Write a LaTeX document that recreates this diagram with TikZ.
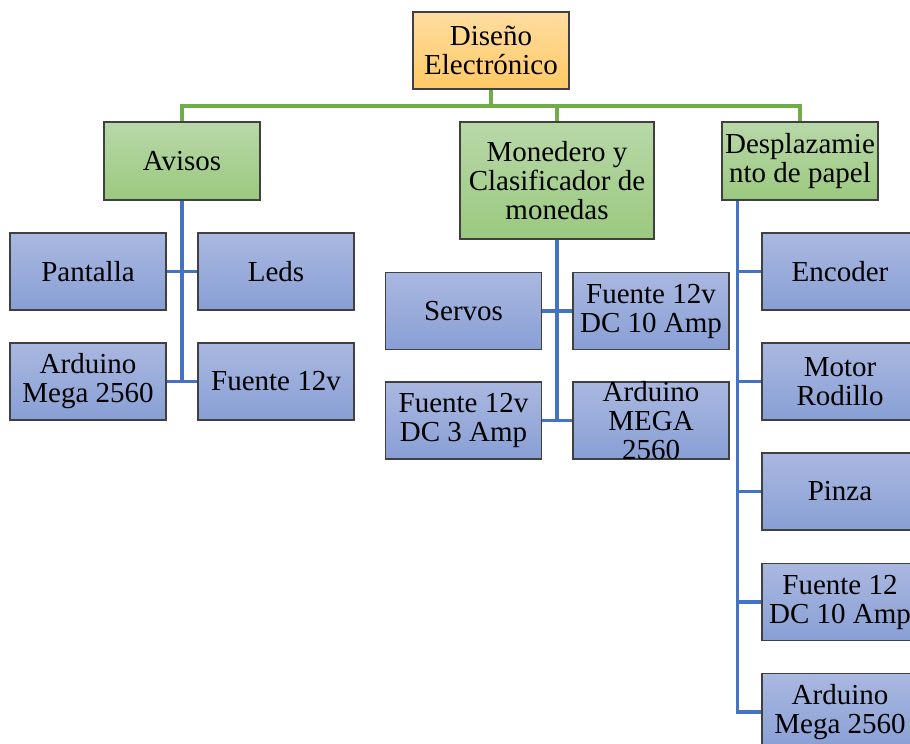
\documentclass[tikz,border=0pt]{standalone}
\usepackage{fontspec}
\setmainfont{Liberation Serif}
\newfontfamily\boxface{LiberationSerif}[Extension=.ttf, UprightFont=*-Regular]
\begin{document}
\begin{tikzpicture}[x=1pt,y=-1pt,
  boxfont/.style={font=\boxface\fontsize{29}{29}\selectfont},
  basebox/.style={draw=boxedge, line width=1.1pt, inner sep=0pt, align=center, boxfont,
    minimum width=156pt, minimum height=77pt},
  topbox/.style={basebox, top color=topA, bottom color=topB},
  midbox/.style={basebox, top color=midA, bottom color=midB},
  leafbox/.style={basebox, top color=leafA, bottom color=leafB},
  gline/.style={draw=linkG, line width=3.4pt},
  bline/.style={draw=linkB, line width=3.4pt},
  lbl/.style={boxfont, align=center, inner sep=0pt}]
\definecolor{boxedge}{HTML}{404040}
\definecolor{topA}{HTML}{FFDDA0}
\definecolor{topB}{HTML}{FFC965}
\definecolor{midA}{HTML}{B8D8A8}
\definecolor{midB}{HTML}{9BC97F}
\definecolor{leafA}{HTML}{AAB8E0}
\definecolor{leafB}{HTML}{889FD5}
\definecolor{linkG}{HTML}{70AD47}
\definecolor{linkB}{HTML}{4472C4}
\useasboundingbox (0,0) rectangle (910,744);
\clip (0,0) rectangle (910,744);

% root
\node[topbox] (root) at (491,50.5) {Diseño\\Electrónico};

% second level
\node[midbox, minimum width=156pt, minimum height=78pt] (avi) at (182,161) {Avisos};
\node[midbox, minimum width=194pt, minimum height=117pt] (mon) at (557,180.5) {Monedero y\\Clasificador de\\monedas};
\node[midbox, minimum width=156pt, minimum height=78pt] (des) at (800,161) {Desplazamie\\nto de papel};

% Avisos
\node[leafbox] (pan) at (88,271.5) {Pantalla};
\node[leafbox] (led) at (276,271.5) {Leds};
\node[leafbox] (ard) at (88,381.5) {Arduino\\Mega 2560};
\node[leafbox] (f12) at (276,381.5) {Fuente 12v};

% Monedero
\node[leafbox] (ser) at (463.5,311) {Servos};
\node[leafbox] (fda) at (651,311) {Fuente 12v\\DC 10 Amp};
\node[leafbox] (fdb) at (463.5,420.5) {Fuente 12v\\DC 3 Amp};
\node[leafbox, label={[lbl]center:Arduino\\MEGA\\2560}] (amg) at (651,420.5) {};

% Desplazamiento
\node[leafbox] (enc) at (840,271.5) {Encoder};
\node[leafbox] (mot) at (840,381.5) {Motor\\Rodillo};
\node[leafbox] (pin) at (840,491.5) {Pinza};
\node[leafbox] (fdc) at (840,602) {Fuente 12\\DC 10 Amp};
\node[leafbox] (adm) at (840,712) {Arduino\\Mega 2560};

% green links from the root
\coordinate (bus) at (491,106);
\draw[gline] (root.south) -- (bus) -| (avi.north);
\draw[gline] (bus) -| (mon.north);
\draw[gline] (bus) -| (des.north);

% Avisos links
\draw[bline] (avi.south) -- (avi.south |- f12.west);
\draw[bline] (pan.east) -- (led.west);
\draw[bline] (ard.east) -- (f12.west);

% Monedero links
\draw[bline] (mon.south) -- (mon.south |- amg.west);
\draw[bline] (ser.east) -- (fda.west);
\draw[bline] (fdb.east) -- (amg.west);

% Desplazamiento links
\coordinate (dtop) at ([xshift=16pt]des.south west);
\draw[bline] (dtop) |- (adm.west);
\draw[bline] (dtop |- enc.west) -- (enc.west);
\draw[bline] (dtop |- mot.west) -- (mot.west);
\draw[bline] (dtop |- pin.west) -- (pin.west);
\draw[bline] (dtop |- fdc.west) -- (fdc.west);
\end{tikzpicture}
\end{document}
